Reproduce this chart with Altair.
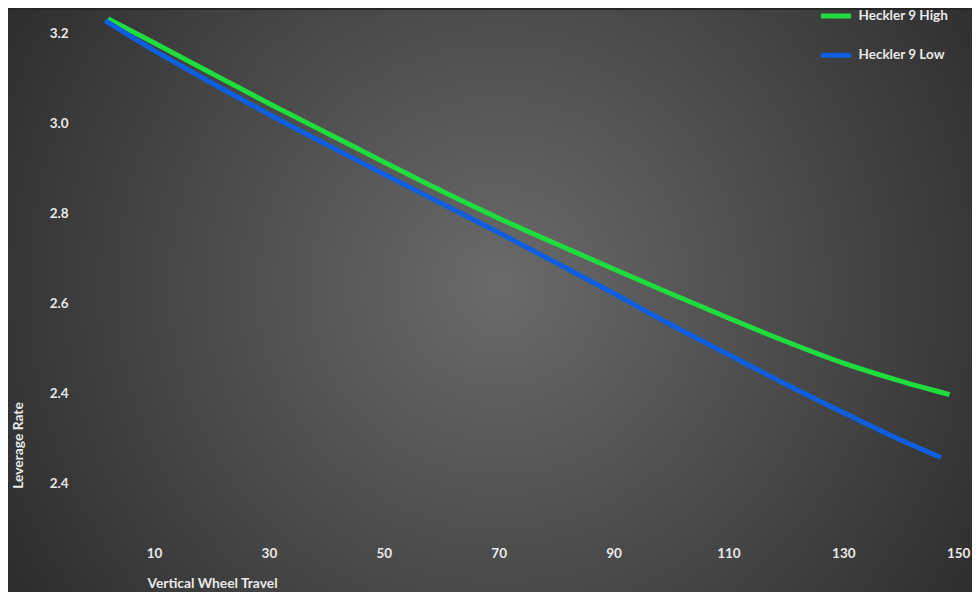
import altair as alt
import pandas as pd

# ---- data ----
series = ["Heckler 9 High", "Heckler 9 Low"]
colors = ["#1fdd3d", "#0e5fe0"]

travel_high = [2, 10, 20, 30, 40, 50, 60, 70, 80, 90, 100, 110, 120, 130, 140, 148.5]
rate_high = [3.236, 3.183, 3.115, 3.048, 2.983, 2.918, 2.854, 2.793, 2.736, 2.680,
             2.625, 2.571, 2.519, 2.471, 2.431, 2.401]

travel_low = [1.5, 10, 20, 30, 40, 50, 60, 70, 80, 90, 100, 110, 120, 130, 140, 147]
rate_low = [3.232, 3.166, 3.094, 3.024, 2.957, 2.891, 2.826, 2.761, 2.694, 2.626,
            2.556, 2.490, 2.424, 2.361, 2.300, 2.261]

x_ticks = [10, 30, 50, 70, 90, 110, 130, 150]
y_ticks = [2.2, 2.4, 2.6, 2.8, 3.0, 3.2]
y_tick_labels = ["2.4", "2.4", "2.6", "2.8", "3.0", "3.2"]

x_domain = [-2.88, 152.4]
y_domain = [2.1178, 3.2556]

W, H = 892, 512
FONT = "Lato"
TXT = "#e9e9e9"

df = pd.concat([
    pd.DataFrame({"travel": travel_high, "rate": rate_high, "series": series[0]}),
    pd.DataFrame({"travel": travel_low, "rate": rate_low, "series": series[1]}),
])

# y label expression from the tick label list
expr = "''"
for v, lab in zip(y_ticks, y_tick_labels):
    expr = f"abs(datum.value - {v}) < 0.01 ? '{lab}' : ({expr})"

gradient = alt.RadialGradient(
    gradient="radial",
    stops=[alt.GradientStop(color="#6a6a6a", offset=0),
           alt.GradientStop(color="#1e1e1e", offset=1)],
    x1=0.51, y1=0.485, x2=0.51, y2=0.485, r1=0, r2=0.74,
)

bg = alt.Chart(pd.DataFrame({"a": [0]})).mark_rect(fill=gradient).encode(
    x=alt.value(-72), x2=alt.value(W), y=alt.value(0), y2=alt.value(582)
)

lines = alt.Chart(df).mark_line(strokeWidth=5, interpolate="monotone", strokeCap="butt").encode(
    x=alt.X("travel:Q",
            scale=alt.Scale(domain=x_domain, nice=False, zero=False),
            axis=alt.Axis(values=x_ticks, title="Vertical Wheel Travel",
                          grid=False, ticks=False, domain=False, zindex=1,
                          labelPadding=31.5, labelBaseline="middle",
                          labelFont=FONT, labelFontSize=13.5, labelFontWeight="bold",
                          labelColor=TXT,
                          titleFont=FONT, titleFontSize=13.8, titleFontWeight="bold",
                          titleColor=TXT, titleX=132, titleY=61.5,
                          titleAlign="center", titleBaseline="middle")),
    y=alt.Y("rate:Q",
            scale=alt.Scale(domain=y_domain, nice=False, zero=False),
            axis=alt.Axis(values=y_ticks, labelExpr=expr, title="Leverage Rate",
                          grid=False, ticks=False, domain=False, zindex=1,
                          labelPadding=12, labelOffset=-1.5,
                          labelFont=FONT, labelFontSize=13.5, labelFontWeight="bold",
                          labelColor=TXT,
                          titleFont=FONT, titleFontSize=13.8, titleFontWeight="bold",
                          titleColor=TXT, titleAngle=270, titleX=-62, titleY=435,
                          titleAlign="center", titleBaseline="middle")),
    color=alt.Color("series:N",
                    scale=alt.Scale(domain=series, range=colors),
                    legend=alt.Legend(title=None, orient="none",
                                      legendX=738.5, legendY=0,
                                      symbolType="stroke", symbolStrokeWidth=5,
                                      symbolSize=900, labelOffset=5,
                                      clipHeight=12, rowPadding=25.3,
                                      padding=0,
                                      labelFont=FONT, labelFontSize=13.5,
                                      labelFontWeight="bold", labelColor=TXT)),
)

chart = alt.layer(bg, lines).properties(
    width=W, height=H, padding=0, background="#262626"
).configure_view(stroke=None)

chart.save("out.html", embed_options={"renderer": "svg", "actions": False})
